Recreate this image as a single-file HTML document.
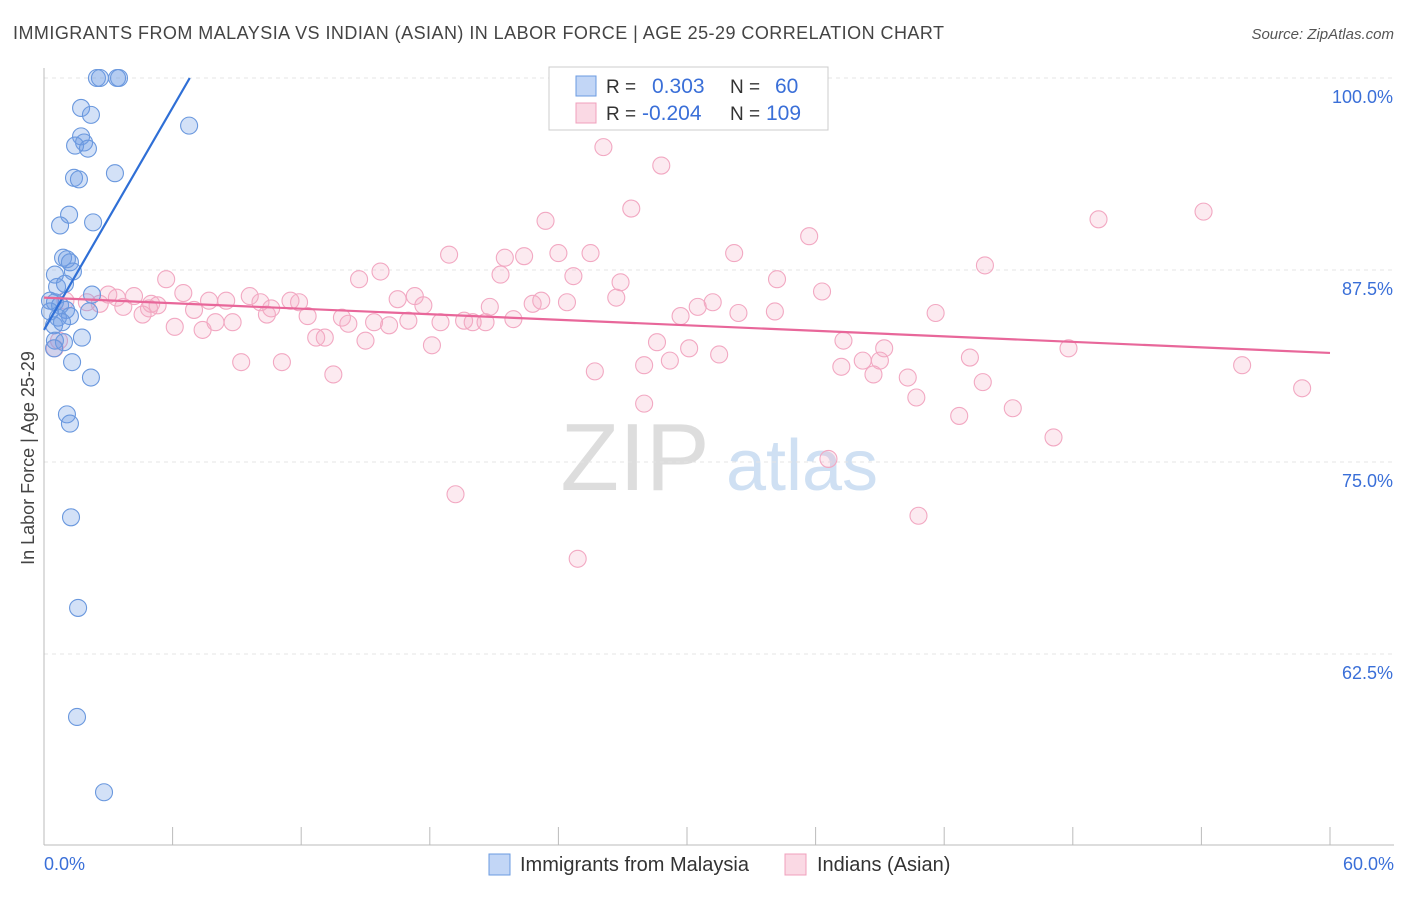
<!DOCTYPE html>
<html><head><meta charset="utf-8">
<style>
body{margin:0;background:#fff;font-family:"Liberation Sans",sans-serif;}
svg text{font-family:"Liberation Sans",sans-serif;}
</style></head>
<body>
<svg id="chart" width="1406" height="892" viewBox="0 0 1406 892" xmlns="http://www.w3.org/2000/svg">
<text x="13" y="39" font-size="18" fill="#444" textLength="931" lengthAdjust="spacing">IMMIGRANTS FROM MALAYSIA VS INDIAN (ASIAN) IN LABOR FORCE | AGE 25-29 CORRELATION CHART</text>
<text x="1394" y="39" font-size="15" fill="#555" text-anchor="end" font-style="italic">Source: ZipAtlas.com</text>
<text transform="translate(34,458) rotate(-90)" font-size="18" fill="#444" text-anchor="middle">In Labor Force | Age 25-29</text>
<g>
<text x="635" y="490" font-size="96" fill="#ddd" font-family="Liberation Serif,serif" text-anchor="middle">ZIP</text>
<text x="802" y="490" font-size="72" fill="#cfe0f3" text-anchor="middle">atlas</text>
</g>
<g id="grid"></g>
<g id="axes"></g>
<g id="pts-pink"></g>
<g id="pts-blue"></g>
<g id="lines"></g>
<g>
<rect x="549" y="67" width="279" height="63" fill="#fff" stroke="#ccc"/>
<rect x="576" y="76" width="20" height="20" fill="rgba(120,165,235,0.45)" stroke="#6b9be0"/>
<rect x="576" y="103" width="20" height="20" fill="rgba(245,170,195,0.45)" stroke="#f0a0bc"/>
<text x="606" y="93" font-size="19" fill="#333">R =</text>
<text x="652" y="93" font-size="21" fill="#3a6fd8">0.303</text>
<text x="730" y="93" font-size="19" fill="#333">N =</text>
<text x="775" y="93" font-size="21" fill="#3a6fd8">60</text>
<text x="606" y="120" font-size="19" fill="#333">R =</text>
<text x="642" y="120" font-size="21" fill="#3a6fd8">-0.204</text>
<text x="730" y="120" font-size="19" fill="#333">N =</text>
<text x="766" y="120" font-size="21" fill="#3a6fd8">109</text>
</g>
<g>
<rect x="489" y="854" width="21" height="21" fill="rgba(120,165,235,0.45)" stroke="#6b9be0"/>
<text x="520" y="871" font-size="20" fill="#333">Immigrants from Malaysia</text>
<rect x="785" y="854" width="21" height="21" fill="rgba(245,170,195,0.45)" stroke="#f0a0bc"/>
<text x="817" y="871" font-size="20" fill="#333">Indians (Asian)</text>
</g>
</svg>
<script>
const xTicks=[0,6,12,18,24,30,36,42,48,54,60];
const yTicks=[100,87.5,75,62.5];
const yTickLabels=["100.0%","87.5%","75.0%","62.5%"];
const xEndLabels=["0.0%","60.0%"];
const blueX=[2.47,2.61,3.41,3.5,1.73,2.19,6.77,1.73,1.87,1.45,2.05,1.40,1.63,3.31,1.17,0.75,2.29,0.89,1.07,1.21,0.51,1.35,0.61,0.98,2.24,0.28,0.51,0.75,1.03,0.28,0.65,1.21,2.10,0.47,0.84,1.77,0.51,0.93,0.47,1.31,2.19,1.07,1.21,1.26,1.59,1.54,2.80];
const blueY=[100,100,100,100,98.05,97.6,96.9,96.2,95.8,95.6,95.4,93.5,93.4,93.8,91.1,90.4,90.6,88.3,88.2,88.0,87.2,87.4,86.4,86.6,85.9,85.5,85.4,85.2,84.9,84.8,84.4,84.5,84.8,83.9,84.1,83.1,82.9,82.8,82.4,81.5,80.5,78.1,77.5,71.4,65.5,58.4,53.5];
const pinkX=[26.1,28.8,27.4,49.2,54.1,23.4,35.7,18.9,21.5,22.4,24.0,25.5,32.2,43.9,15.7,21.3,24.7,14.7,5.7,34.2,26.9,36.3,6.5,3.0,4.2,3.4,2.0,1.0,2.6,9.6,7.7,8.5,10.1,11.5,11.9,16.5,17.3,17.7,20.8,22.8,23.2,24.4,26.7,31.2,30.5,5.0,5.3,3.7,7.0,4.9,10.6,10.4,12.3,13.9,14.2,15.4,17.0,16.1,18.5,19.6,20.0,20.6,21.9,29.7,32.4,34.1,41.6,4.6,6.1,7.4,8.0,8.8,12.7,13.1,15.0,18.1,28.6,30.1,31.5,37.3,38.2,39.2,39.0,43.2,47.8,9.2,11.1,13.5,25.7,28.0,29.2,37.2,38.7,40.3,40.7,43.8,42.7,45.2,28.0,47.1,55.9,58.7,19.2,40.8,24.9,36.6,0.5,0.7];
const pinkY=[95.5,94.3,91.5,90.8,91.3,90.7,89.7,88.5,88.3,88.4,88.6,88.6,88.6,87.8,87.4,87.2,87.1,86.9,86.9,86.9,86.7,86.1,86.0,85.9,85.8,85.7,85.4,85.5,85.3,85.8,85.5,85.5,85.4,85.5,85.4,85.6,85.8,85.2,85.1,85.3,85.5,85.4,85.7,85.4,85.1,85.3,85.2,85.1,84.9,85.0,85.0,84.6,84.5,84.4,84.0,84.1,84.2,83.9,84.1,84.2,84.1,84.1,84.3,84.5,84.7,84.8,84.7,84.6,83.8,83.6,84.1,84.1,83.1,83.1,82.9,82.6,82.8,82.4,82.0,82.9,81.6,82.4,81.6,81.8,82.4,81.5,81.5,80.7,80.9,81.3,81.6,81.2,80.7,80.5,79.2,80.2,78.0,78.5,78.8,76.6,81.3,79.8,72.9,71.5,68.7,75.2,82.4,82.9];
const blueLine=[0,83.6,6.8,100];
const pinkLine=[0,85.7,60,82.1];
const NS="http://www.w3.org/2000/svg";
const sx=v=>44+v*(1286/60);
const sy=v=>78+(100-v)*15.36;
function mk(tag,attrs,parent){const e=document.createElementNS(NS,tag);for(const k in attrs)e.setAttribute(k,attrs[k]);parent.appendChild(e);return e;}
const grid=document.getElementById('grid'),axes=document.getElementById('axes');
yTicks.forEach((t,i)=>{
 const l=mk('line',{x1:44,x2:1394,y1:sy(t),y2:sy(t),stroke:'#e4e4e4','stroke-dasharray':'4,4'},grid);
 
 
 const tx=mk('text',{x:1393,y:sy(t)+25,'font-size':18,fill:'#3a6fd8','text-anchor':'end'},axes);
 tx.textContent=yTickLabels[i];
 
 
});
const xa=mk('line',{x1:44,x2:1394,y1:845,y2:845,stroke:'#bbb'},axes);


const ya=mk('line',{x1:44,x2:44,y1:68,y2:845,stroke:'#bbb'},axes);


xTicks.forEach(t=>{
 const l=mk('line',{x1:sx(t),x2:sx(t),y1:827,y2:845,stroke:'#bbb'},axes);
 
 
});
const xl0=mk('text',{x:44,y:870,'font-size':18,fill:'#3a6fd8'},axes);xl0.textContent=xEndLabels[0];


const xl1=mk('text',{x:1394,y:870,'font-size':18,fill:'#3a6fd8','text-anchor':'end'},axes);xl1.textContent=xEndLabels[1];


const gp=document.getElementById('pts-pink');
pinkX.forEach((x,i)=>{
 const c=mk('circle',{cx:sx(x),cy:sy(pinkY[i]),r:8.5,fill:'rgba(245,170,195,0.25)',stroke:'#f2a8c2','stroke-width':1.1},gp);
 
 
});
const gb=document.getElementById('pts-blue');
blueX.forEach((x,i)=>{
 const c=mk('circle',{cx:sx(x),cy:sy(blueY[i]),r:8.5,fill:'rgba(110,155,230,0.3)',stroke:'#6a98de','stroke-width':1.1},gb);
 
 
});
const gl=document.getElementById('lines');
const bl=mk('line',{x1:sx(blueLine[0]),y1:sy(blueLine[1]),x2:sx(blueLine[2]),y2:sy(blueLine[3]),stroke:'#2f6fd6','stroke-width':2.2},gl);


const pl=mk('line',{x1:sx(pinkLine[0]),y1:sy(pinkLine[1]),x2:sx(pinkLine[2]),y2:sy(pinkLine[3]),stroke:'#e8679a','stroke-width':2.2},gl);


</script>
</body></html>
